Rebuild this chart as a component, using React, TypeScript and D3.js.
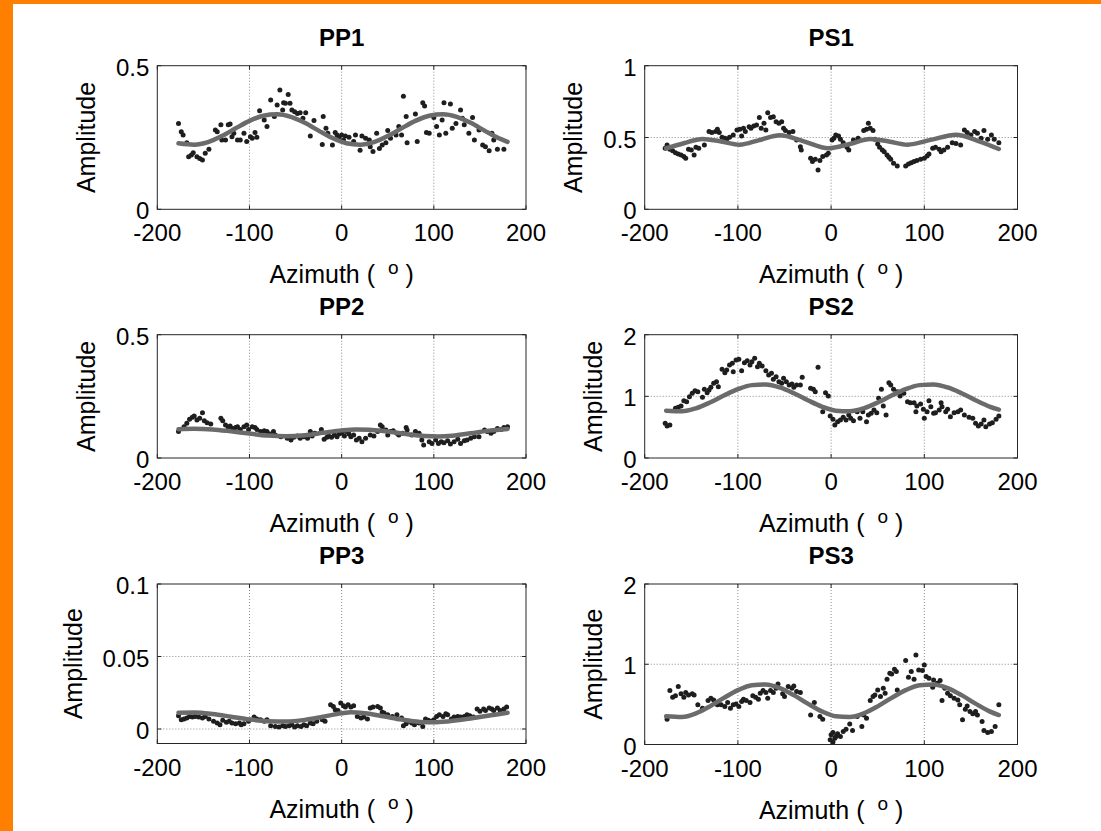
import React from "react";
import * as d3 from "d3";

// ---------- DATA ----------
const xTicks = [-200, -100, 0, 100, 200];

// PP1
const pp1Az = [-177,-174,-172,-168,-166,-163,-161,-157,-154,-151,-148,-144,-137,-135,-131,-130,-126,-123,-121,-119,-117,-113,-110,-106,-103,-99,-97,-94,-92,-89,-84,-81,-77,-73,-70,-67,-64,-63,-61,-58,-56,-54,-51,-48,-45,-42,-39,-34,-30,-21,-20,-17,-15,-10,-7,-5,-3,0,2,4,8,13,15,20,22,26,30,31,34,38,41,44,48,50,53,59,62,65,67,70,71,80,82,88,90,92,95,100,103,106,109,111,113,118,120,124,129,131,133,138,142,144,149,153,156,160,163,165,169,176];
const pp1Amp = [0.299,0.270,0.259,0.232,0.183,0.189,0.197,0.183,0.177,0.172,0.195,0.209,0.276,0.270,0.294,0.241,0.241,0.294,0.297,0.253,0.265,0.241,0.241,0.265,0.236,0.253,0.247,0.267,0.251,0.343,0.311,0.288,0.381,0.323,0.363,0.415,0.346,0.371,0.369,0.400,0.369,0.346,0.340,0.334,0.336,0.317,0.336,0.255,0.309,0.226,0.323,0.282,0.265,0.224,0.267,0.259,0.251,0.259,0.241,0.255,0.251,0.236,0.259,0.206,0.255,0.247,0.241,0.218,0.201,0.265,0.212,0.224,0.232,0.274,0.247,0.259,0.288,0.259,0.394,0.323,0.232,0.332,0.236,0.371,0.360,0.267,0.265,0.320,0.288,0.259,0.311,0.371,0.265,0.367,0.282,0.299,0.346,0.317,0.294,0.265,0.320,0.241,0.276,0.224,0.218,0.204,0.265,0.241,0.209,0.209];
const pp1FitAz = [-177,-160,-145,-130,-115,-100,-85,-70,-55,-40,-25,-10,5,20,35,50,65,80,95,110,125,140,155,170,180];
const pp1Fit = [0.230,0.225,0.234,0.255,0.282,0.308,0.326,0.331,0.322,0.301,0.274,0.248,0.230,0.225,0.234,0.255,0.282,0.308,0.326,0.331,0.322,0.301,0.274,0.248,0.235];

// PS1
const ps1Az = [-178,-176,-173,-170,-167,-164,-161,-158,-156,-153,-150,-147,-145,-142,-136,-131,-128,-124,-122,-120,-117,-114,-112,-109,-105,-101,-98,-96,-94,-92,-88,-86,-83,-80,-77,-75,-72,-70,-68,-65,-62,-59,-56,-53,-51,-49,-45,-41,-37,-33,-32,-22,-20,-17,-14,-12,-9,-5,-3,1,3,5,8,10,13,17,19,24,29,35,38,40,42,45,47,50,52,55,57,60,62,64,67,71,80,83,86,89,92,96,100,103,105,109,112,116,118,121,125,130,134,139,143,146,150,154,157,161,164,168,172,175,180];
const ps1Amp = [0.425,0.448,0.418,0.408,0.394,0.385,0.378,0.367,0.355,0.418,0.413,0.378,0.432,0.425,0.448,0.541,0.534,0.541,0.557,0.534,0.501,0.494,0.487,0.501,0.517,0.552,0.557,0.510,0.564,0.541,0.575,0.564,0.580,0.587,0.640,0.564,0.599,0.552,0.673,0.640,0.645,0.610,0.599,0.610,0.564,0.548,0.534,0.541,0.483,0.436,0.413,0.355,0.332,0.348,0.274,0.339,0.367,0.378,0.390,0.483,0.494,0.517,0.510,0.487,0.464,0.432,0.413,0.483,0.494,0.548,0.557,0.599,0.564,0.548,0.487,0.455,0.432,0.413,0.401,0.378,0.362,0.348,0.320,0.302,0.302,0.316,0.325,0.332,0.339,0.348,0.355,0.371,0.385,0.425,0.432,0.418,0.401,0.413,0.432,0.464,0.459,0.448,0.552,0.534,0.517,0.541,0.529,0.494,0.548,0.487,0.517,0.487,0.464];
const ps1FitAz = [-177,-158,-138,-118,-98,-77,-55,-30,-3,20,42,62,82,108,134,158,180];
const ps1Fit = [0.425,0.460,0.490,0.472,0.450,0.482,0.515,0.475,0.425,0.455,0.490,0.472,0.450,0.485,0.520,0.475,0.420];

// PP2
const pp2Az = [-177,-171,-168,-165,-162,-160,-157,-154,-151,-149,-146,-142,-131,-129,-126,-123,-121,-118,-115,-113,-110,-106,-103,-101,-97,-94,-92,-88,-84,-81,-78,-74,-72,-66,-59,-55,-52,-48,-45,-41,-37,-34,-32,-29,-22,-19,-16,-14,-11,-8,-5,-3,0,3,5,8,10,13,16,19,22,26,31,35,39,42,44,48,50,53,56,60,62,66,70,71,76,80,84,87,89,95,98,102,105,108,111,115,118,122,126,129,133,136,140,144,149,155,158,162,165,169,173,176,180];
const pp2Amp = [0.107,0.127,0.141,0.157,0.165,0.170,0.154,0.161,0.184,0.151,0.143,0.138,0.161,0.151,0.134,0.124,0.130,0.120,0.124,0.127,0.116,0.127,0.134,0.116,0.127,0.124,0.116,0.107,0.111,0.107,0.097,0.107,0.093,0.086,0.080,0.073,0.084,0.089,0.080,0.086,0.080,0.107,0.089,0.100,0.116,0.076,0.084,0.089,0.084,0.093,0.086,0.097,0.100,0.089,0.107,0.097,0.086,0.093,0.073,0.080,0.066,0.080,0.093,0.089,0.107,0.134,0.127,0.114,0.093,0.107,0.111,0.100,0.093,0.100,0.124,0.114,0.093,0.107,0.100,0.073,0.053,0.066,0.059,0.073,0.059,0.066,0.062,0.070,0.057,0.066,0.076,0.059,0.070,0.073,0.080,0.086,0.086,0.114,0.107,0.100,0.107,0.120,0.116,0.124,0.127];
const pp2FitAz = [-177,-160,-140,-120,-100,-80,-60,-40,-20,0,15,30,50,70,90,105,120,140,160,180];
const pp2Fit = [0.117,0.119,0.116,0.108,0.099,0.091,0.088,0.092,0.102,0.112,0.116,0.115,0.107,0.097,0.089,0.087,0.090,0.100,0.111,0.118];

// PS2
const ps2Az = [-178,-176,-173,-167,-164,-161,-158,-155,-152,-149,-146,-143,-138,-136,-133,-131,-129,-126,-123,-121,-117,-114,-112,-109,-106,-105,-102,-99,-96,-93,-90,-87,-85,-82,-79,-77,-74,-70,-67,-64,-62,-59,-56,-53,-51,-48,-45,-42,-40,-37,-33,-31,-22,-19,-17,-14,-9,-6,-3,-1,2,4,7,10,13,16,19,21,24,28,31,34,38,40,43,46,49,51,54,56,59,62,64,67,71,74,78,82,85,89,91,92,96,99,100,103,105,107,110,112,116,118,119,123,125,128,132,136,139,143,148,152,155,158,161,164,166,170,173,177,180];
const ps2Amp = [0.562,0.519,0.535,0.805,0.822,0.843,0.930,0.914,0.995,1.049,1.092,1.076,0.984,1.114,1.059,1.103,1.146,1.211,1.238,1.157,1.438,1.384,1.427,1.508,1.535,1.400,1.589,1.600,1.416,1.546,1.578,1.508,1.562,1.616,1.481,1.535,1.492,1.416,1.346,1.373,1.276,1.319,1.238,1.211,1.292,1.238,1.184,1.200,1.146,1.184,1.184,1.308,1.130,1.114,1.076,1.470,0.751,1.059,1.005,0.681,0.627,0.535,0.589,0.616,0.659,0.616,0.697,0.643,0.605,0.751,0.643,0.751,0.589,0.697,0.724,0.778,0.735,0.968,1.114,0.843,0.697,1.222,1.184,1.114,1.076,1.005,1.049,0.914,0.897,0.897,0.751,0.843,0.876,0.789,0.643,0.751,0.930,0.832,0.724,0.735,0.778,0.897,0.832,0.751,0.789,0.670,0.735,0.751,0.778,0.697,0.659,0.643,0.562,0.519,0.551,0.616,0.508,0.551,0.573,0.627,0.681];
const ps2FitAz = [-177,-160,-145,-130,-115,-100,-85,-70,-55,-40,-25,-10,5,20,35,50,65,80,95,110,125,140,155,170,180];
const ps2Fit = [0.768,0.758,0.806,0.900,1.013,1.116,1.182,1.192,1.144,1.050,0.937,0.834,0.768,0.758,0.806,0.900,1.013,1.116,1.182,1.192,1.144,1.050,0.937,0.834,0.784];

// PP3
const pp3Az = [-177,-174,-171,-168,-165,-162,-159,-155,-151,-148,-144,-139,-135,-132,-129,-125,-122,-119,-115,-111,-109,-106,-101,-95,-92,-88,-84,-81,-77,-72,-68,-64,-61,-57,-54,-51,-48,-44,-41,-38,-34,-31,-27,-21,-18,-12,-9,-7,-4,-1,2,4,7,10,13,17,21,24,28,31,34,39,42,44,46,50,55,60,65,67,70,73,76,79,84,88,91,94,97,100,103,106,110,113,115,119,122,126,129,133,136,139,143,147,150,154,156,160,163,165,169,172,176,179];
const pp3Amp = [0.0092,0.0064,0.0069,0.0076,0.0087,0.0083,0.0087,0.0083,0.0076,0.0087,0.0069,0.0053,0.0041,0.0030,0.0060,0.0046,0.0053,0.0041,0.0037,0.0041,0.0030,0.0037,0.0053,0.0083,0.0069,0.0064,0.0053,0.0064,0.0023,0.0018,0.0014,0.0023,0.0018,0.0023,0.0030,0.0014,0.0023,0.0018,0.0030,0.0023,0.0041,0.0037,0.0053,0.0064,0.0053,0.0167,0.0156,0.0133,0.0128,0.0179,0.0161,0.0151,0.0167,0.0151,0.0161,0.0087,0.0076,0.0083,0.0069,0.0144,0.0151,0.0156,0.0144,0.0115,0.0110,0.0099,0.0087,0.0099,0.0076,0.0023,0.0037,0.0053,0.0041,0.0030,0.0041,0.0018,0.0069,0.0060,0.0053,0.0064,0.0087,0.0099,0.0087,0.0106,0.0099,0.0069,0.0083,0.0087,0.0083,0.0087,0.0099,0.0092,0.0083,0.0138,0.0122,0.0138,0.0128,0.0144,0.0138,0.0128,0.0144,0.0128,0.0138,0.0151];
const pp3FitAz = [-177,-160,-140,-120,-100,-80,-60,-40,-20,0,10,25,45,65,85,100,115,135,155,170,180];
const pp3Fit = [0.0112,0.0113,0.0103,0.0085,0.0066,0.0054,0.0052,0.0063,0.0085,0.0108,0.0115,0.0108,0.0088,0.0065,0.0049,0.0046,0.0052,0.0068,0.0088,0.0102,0.0112];

// PS3
const ps3Az = [-176,-173,-170,-167,-164,-161,-158,-156,-153,-149,-147,-143,-138,-132,-129,-126,-122,-118,-114,-111,-108,-105,-102,-99,-96,-94,-91,-87,-84,-81,-78,-76,-73,-70,-68,-65,-62,-59,-57,-52,-50,-46,-42,-40,-37,-33,-22,-18,-12,-9,-1,0,2,2,4,5,7,10,13,16,20,23,28,33,35,38,42,45,47,50,53,56,58,60,63,65,68,70,71,80,83,86,89,91,94,98,100,102,105,109,110,114,117,119,122,125,128,132,136,138,141,144,146,149,152,155,157,162,164,168,172,176,180];
const ps3Amp = [0.315,0.672,0.589,0.606,0.722,0.631,0.589,0.647,0.618,0.631,0.618,0.494,0.452,0.548,0.577,0.556,0.494,0.494,0.473,0.523,0.452,0.494,0.506,0.473,0.535,0.564,0.548,0.523,0.606,0.589,0.564,0.639,0.672,0.647,0.577,0.672,0.647,0.701,0.755,0.631,0.598,0.722,0.701,0.730,0.660,0.647,0.369,0.523,0.349,0.315,0.060,0.120,0.149,0.030,0.079,0.100,0.133,0.100,0.162,0.191,0.257,0.174,0.349,0.224,0.369,0.328,0.548,0.598,0.618,0.680,0.598,0.701,0.639,0.813,0.888,0.880,0.938,0.909,0.680,1.046,0.838,0.909,0.813,1.116,0.929,0.921,0.992,0.846,0.826,0.714,0.805,0.763,0.797,0.548,0.701,0.639,0.606,0.577,0.556,0.494,0.307,0.440,0.481,0.411,0.382,0.411,0.369,0.286,0.174,0.149,0.162,0.224,0.494];
const ps3FitAz = [-177,-160,-145,-130,-115,-100,-85,-70,-55,-40,-25,-10,5,20,35,50,65,80,95,110,125,140,155,170,180];
const ps3Fit = [0.352,0.343,0.388,0.475,0.581,0.677,0.738,0.747,0.702,0.615,0.509,0.413,0.352,0.343,0.388,0.475,0.581,0.677,0.738,0.747,0.702,0.615,0.509,0.413,0.367];

// ---------- LAYOUT ----------
const FONT = "'Liberation Sans', Arial, Helvetica, sans-serif";
const LEFT_COL = { x0: 157.3, x1: 526 };
const RIGHT_COL = { x0: 644.7, x1: 1017.5 };

type PanelCfg = {
  title: string;
  az: number[];
  amp: number[];
  fitAz: number[];
  fit: number[];
  yDomain: [number, number];
  yTicks: number[];
  x0: number; x1: number; y0: number; y1: number;
};

const panels: PanelCfg[] = [
  { title: "PP1", az: pp1Az, amp: pp1Amp, fitAz: pp1FitAz, fit: pp1Fit, yDomain: [0, 0.5], yTicks: [0, 0.5], ...LEFT_COL, y0: 65.7, y1: 209.3 },
  { title: "PS1", az: ps1Az, amp: ps1Amp, fitAz: ps1FitAz, fit: ps1Fit, yDomain: [0, 1], yTicks: [0, 0.5, 1], ...RIGHT_COL, y0: 65.7, y1: 209.3 },
  { title: "PP2", az: pp2Az, amp: pp2Amp, fitAz: pp2FitAz, fit: pp2Fit, yDomain: [0, 0.5], yTicks: [0, 0.5], ...LEFT_COL, y0: 334.7, y1: 458 },
  { title: "PS2", az: ps2Az, amp: ps2Amp, fitAz: ps2FitAz, fit: ps2Fit, yDomain: [0, 2], yTicks: [0, 1, 2], ...RIGHT_COL, y0: 334.7, y1: 458 },
  { title: "PP3", az: pp3Az, amp: pp3Amp, fitAz: pp3FitAz, fit: pp3Fit, yDomain: [-0.01, 0.1], yTicks: [0, 0.05, 0.1], ...LEFT_COL, y0: 584, y1: 743.5 },
  { title: "PS3", az: ps3Az, amp: ps3Amp, fitAz: ps3FitAz, fit: ps3Fit, yDomain: [0, 2], yTicks: [0, 1, 2], ...RIGHT_COL, y0: 584, y1: 744.5 },
];

const TICK_FS = 24;
const LABEL_FS = 25;
const TITLE_FS = 24;

function labelWidth(s: string, fs: number) {
  let w = 0;
  for (const c of s) w += c === "." ? 0.278 : 0.556;
  return w * fs;
}

function Panel({ p }: { p: PanelCfg }) {
  const x = d3.scaleLinear().domain([-200, 200]).range([p.x0, p.x1]);
  const y = d3.scaleLinear().domain(p.yDomain).range([p.y1, p.y0]);
  const fitLine = d3
    .line<number>()
    .x((_, i) => x(p.fitAz[i]))
    .y((d) => y(d))
    .curve(d3.curveMonotoneX);
  const fmt = (v: number) => String(v);
  const tl = 4;
  const maxW = d3.max(p.yTicks, (t) => labelWidth(fmt(t), TICK_FS)) || 0;
  const ylabX = p.x0 - 8 - maxW - 21;
  const cx = (p.x0 + p.x1) / 2;
  const cy = (p.y0 + p.y1) / 2;
  const inner = (t: number, dom: number[]) => t > dom[0] + 1e-9 && t < dom[1] - 1e-9;
  return (
    <g>
      <rect x={p.x0} y={p.y0} width={p.x1 - p.x0} height={p.y1 - p.y0} fill="#ffffff" />
      {/* grid */}
      {xTicks.filter((t) => inner(t, [-200, 200])).map((t) => (
        <line key={"gx" + t} x1={x(t)} x2={x(t)} y1={p.y0} y2={p.y1} stroke="#8a8a8a" strokeWidth={1} strokeDasharray="1,2" />
      ))}
      {p.yTicks.filter((t) => inner(t, p.yDomain)).map((t) => (
        <line key={"gy" + t} x1={p.x0} x2={p.x1} y1={y(t)} y2={y(t)} stroke="#8a8a8a" strokeWidth={1} strokeDasharray="1,2" />
      ))}
      {/* ticks */}
      {xTicks.map((t) => (
        <g key={"tx" + t}>
          <line x1={x(t)} x2={x(t)} y1={p.y1} y2={p.y1 - tl} stroke="#262626" />
          <line x1={x(t)} x2={x(t)} y1={p.y0} y2={p.y0 + tl} stroke="#262626" />
          <text x={x(t)} y={p.y1 + 32} textAnchor="middle" fontSize={TICK_FS} fontFamily={FONT} fill="#000">{fmt(t)}</text>
        </g>
      ))}
      {p.yTicks.map((t) => (
        <g key={"ty" + t}>
          <line x1={p.x0} x2={p.x0 + tl} y1={y(t)} y2={y(t)} stroke="#262626" />
          <line x1={p.x1} x2={p.x1 - tl} y1={y(t)} y2={y(t)} stroke="#262626" />
          <text x={p.x0 - 8} y={y(t) + 10} textAnchor="end" fontSize={TICK_FS} fontFamily={FONT} fill="#000">{fmt(t)}</text>
        </g>
      ))}
      {/* data */}
      {p.az.map((a, i) => (
        <circle key={"d" + i} cx={x(a)} cy={y(p.amp[i])} r={2.5} fill="#1e1e1e" />
      ))}
      <path d={fitLine(p.fit) || ""} fill="none" stroke="#6b6b6b" strokeWidth={4.5} strokeLinecap="round" />
      {/* box */}
      <rect x={p.x0} y={p.y0} width={p.x1 - p.x0} height={p.y1 - p.y0} fill="none" stroke="#262626" strokeWidth={1} />
      {/* labels */}
      <text x={cx} y={p.y0 - 20} textAnchor="middle" fontSize={TITLE_FS} fontWeight="bold" fontFamily={FONT} fill="#000">{p.title}</text>
      <text x={cx} y={p.y1 + 74} textAnchor="middle" fontSize={LABEL_FS} fontFamily={FONT} fill="#000">
        Azimuth (<tspan fontSize={LABEL_FS} dx={6}> </tspan><tspan fontSize={19} dy={-9}>o</tspan><tspan dy={9}> )</tspan>
      </text>
      <text transform={`translate(${ylabX},${cy}) rotate(-90)`} textAnchor="middle" fontSize={LABEL_FS} fontFamily={FONT} fill="#000">Amplitude</text>
    </g>
  );
}

export default function App() {
  return (
    <svg width={1101} height={831} style={{ position: "absolute", left: 0, top: 0, background: "#ffffff" }}>
      <rect x={0} y={0} width={1101} height={831} fill="#ffffff" />
      <rect x={0} y={0} width={1101} height={4} fill="#ff8000" />
      <rect x={0} y={0} width={13} height={831} fill="#ff8000" />
      {panels.map((p) => (
        <Panel key={p.title} p={p} />
      ))}
    </svg>
  );
}
